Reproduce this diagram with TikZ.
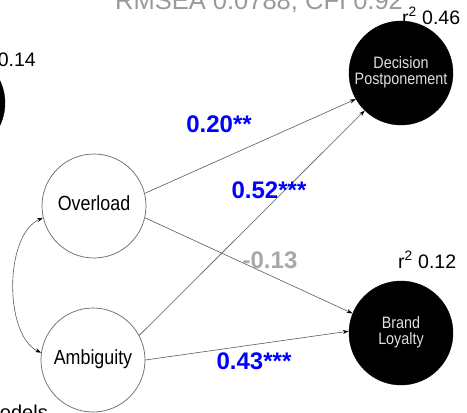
\documentclass[tikz,border=0pt]{standalone}
\usepackage{fontspec}
\setmainfont{Liberation Sans}
\usetikzlibrary{arrows.meta}
\definecolor{edgegray}{HTML}{5A5A5A}
\definecolor{fitgray}{HTML}{9A9A9A}
\definecolor{nsgray}{HTML}{A8A8A8}
% narrow lettering used inside the construct circles
\newcommand{\narrowtext}[1]{\scalebox{0.87}[1]{\begin{tabular}{@{}c@{}}#1\end{tabular}}}
\begin{document}
\begin{tikzpicture}[x=1pt,y=-1pt,
  latent/.style={circle, draw=black!60, line width=0.7pt, fill=white,
    minimum size=104pt, inner sep=0pt, align=center,
    font=\fontsize{20.5}{23}\selectfont},
  outcome/.style={circle, draw=black, fill=black, minimum size=104pt,
    inner sep=0pt, align=center, text=white!88!black,
    font=\fontsize{16.5}{16}\selectfont},
  regpath/.style={draw=edgegray, line width=0.6pt,
    -{Stealth[length=6pt,width=4pt,black]}},
  est/.style={font=\bfseries\fontsize{24}{24}\selectfont, text=blue, inner sep=0pt},
  rsq/.style={font=\fontsize{19.5}{20}\selectfont, inner sep=0pt},
]
\useasboundingbox (0,0) rectangle (467,413);
\clip (0,0) rectangle (467,413);

% fit indices along the top edge
\node[anchor=base west, inner sep=0pt, text=fitgray,
      font=\fontsize{25.5}{26}\selectfont] (fit) at (115,9) {RMSEA 0.0788, CFI 0.92};

% neighbouring outcome at the left edge
\node[outcome] (side) at (-47,103) {};
\node[rsq, anchor=base east] (rside) at (36,66) {0.14};

% predictors
\node[latent] (ovl) at (94,206) {\narrowtext{Overload}};
\node[latent] (amb) at (93,360) {\narrowtext{Ambiguity}};

% outcomes
\node[outcome] (dec) at (401,73) {\narrowtext{Decision\\Postponement}};
\node[outcome] (brl) at (401,333) {\narrowtext{Brand\\Loyalty}};

\node[rsq, anchor=base west] (rdec) at (402,24) {r\textsuperscript{2} 0.46};
\node[rsq, anchor=base west] (rbrl) at (398,268) {r\textsuperscript{2} 0.12};

% structural paths
\draw[regpath] (ovl.14) -- (dec.210);
\draw[regpath] (amb.28) -- (dec.226);
\draw[regpath] (ovl.-13) -- (brl.158);
\draw[regpath] (amb.0) -- (brl.178);

% covariance between predictors
\draw[draw=edgegray, line width=0.6pt,
      {Stealth[length=6pt,width=4pt,black]}-{Stealth[length=6pt,width=4pt,black]}]
  (ovl.193) .. controls (4,235) and (4,335) .. (amb.172);

% path estimates
\node[est] (e1) at (219,124) {0.20**};
\node[est] (e2) at (269,190) {0.52***};
\node[est, text=nsgray] (e3) at (270,260) {-0.13};
\node[est] (e4) at (254,361) {0.43***};

% caption fragment at the bottom edge
\node[anchor=base east, inner sep=0pt, font=\fontsize{20}{20}\selectfont] (cap) at (48,419) {models};
\end{tikzpicture}
\end{document}
